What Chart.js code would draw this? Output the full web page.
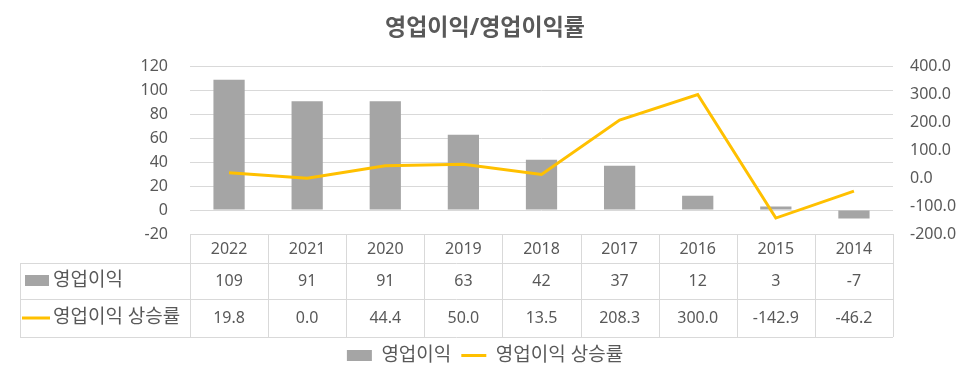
<!DOCTYPE html>
<html>
<head>
<meta charset="utf-8">
<script src="https://cdn.jsdelivr.net/npm/chart.js@4"></script>
<style>
  html, body { margin: 0; padding: 0; background: #fff; }
  #wrap { width: 970px; height: 380px; }
</style>
</head>
<body>
<div id="wrap"><canvas id="profitChart"></canvas></div>
<script>
// données
const years = ['2022', '2021', '2020', '2019', '2018', '2017', '2016', '2015', '2014'];
const profit = [109, 91, 91, 63, 42, 37, 12, 3, -7];
const growth = [19.8, 0.0, 44.4, 50.0, 13.5, 208.3, 300.0, -142.9, -46.2];

const TXT = '#595959';
const GRID = '#D9D9D9';
const FONT = "'Noto Sans', 'Noto Sans CJK KR', sans-serif";

// tableau de données sous le graphique
const dataTable = {
  id: 'dataTable',
  afterDraw(chart) {
    const { ctx, chartArea, scales } = chart;
    const x = scales.x;
    const top = chartArea.bottom;
    const rows = [top, top + 29, top + 65, top + 103];
    const step = x.getPixelForValue(1) - x.getPixelForValue(0);
    const left = chartArea.left;
    const right = chartArea.right;
    const labelLeft = 20;

    ctx.save();
    ctx.strokeStyle = GRID;
    ctx.lineWidth = 1;
    ctx.beginPath();
    // lignes horizontales
    ctx.moveTo(left, rows[0] + 0.5); ctx.lineTo(right, rows[0] + 0.5);
    for (let r = 1; r < rows.length; r++) {
      ctx.moveTo(labelLeft, rows[r] + 0.5); ctx.lineTo(right, rows[r] + 0.5);
    }
    // lignes verticales
    ctx.moveTo(labelLeft + 0.5, rows[1]); ctx.lineTo(labelLeft + 0.5, rows[3]);
    for (let i = 0; i <= years.length; i++) {
      const px = Math.round(x.getPixelForValue(i) - step / 2) + 0.5;
      ctx.moveTo(px, rows[0]); ctx.lineTo(px, rows[3]);
    }
    ctx.stroke();

    ctx.fillStyle = TXT;
    ctx.font = '16px ' + FONT;
    ctx.textAlign = 'center';
    ctx.textBaseline = 'middle';
    years.forEach((_, i) => {
      const cx = x.getPixelForValue(i);
      ctx.fillText(String(profit[i]), cx, (rows[1] + rows[2]) / 2);
      ctx.fillText(growth[i].toFixed(1), cx, (rows[2] + rows[3]) / 2);
    });

    // légendes dans la première colonne
    const ds = chart.data.datasets;
    const y1 = (rows[1] + rows[2]) / 2;
    const y2 = (rows[2] + rows[3]) / 2;
    ctx.fillStyle = ds[1].backgroundColor;
    ctx.fillRect(25, y1 - 6, 24, 11);
    ctx.strokeStyle = ds[0].borderColor;
    ctx.lineWidth = 3;
    ctx.beginPath();
    ctx.moveTo(22, y2); ctx.lineTo(50, y2);
    ctx.stroke();

    ctx.fillStyle = TXT;
    ctx.font = '19px ' + FONT;
    ctx.textAlign = 'left';
    ctx.fillText(ds[1].label, 53, y1);
    ctx.fillText(ds[0].label, 53, y2);
    ctx.restore();
  }
};

const ctx = document.getElementById('profitChart').getContext('2d');
window.profitChart = new Chart(ctx, {
  data: {
    labels: years,
    datasets: [
      {
        type: 'line',
        label: '영업이익 상승률',
        data: growth,
        borderColor: '#FFC000',
        backgroundColor: '#FFC000',
        borderWidth: 3,
        pointRadius: 0,
        tension: 0,
        yAxisID: 'y2',
        order: 0
      },
      {
        type: 'bar',
        label: '영업이익',
        data: profit,
        backgroundColor: '#A5A5A5',
        borderWidth: 0,
        categoryPercentage: 1,
        barPercentage: 0.4,
        yAxisID: 'y',
        order: 1
      }
    ]
  },
  options: {
    responsive: true,
    maintainAspectRatio: false,
    animation: false,
    layout: { padding: { bottom: 5 } },
    plugins: {
      title: {
        display: true,
        text: '영업이익/영업이익률',
        color: TXT,
        font: { family: FONT, size: 23, weight: 'bold' },
        padding: { top: 15, bottom: 24 }
      },
      legend: {
        position: 'bottom',
        reverse: true,
        labels: {
          color: TXT,
          font: { family: FONT, size: 19 },
          usePointStyle: true,
          pointStyleWidth: 25,
          boxHeight: 11,
          padding: 10,
          generateLabels(chart) {
            return chart.data.datasets.map((d, i) => ({
              text: d.label,
              datasetIndex: i,
              fillStyle: d.backgroundColor,
              strokeStyle: d.type === 'line' ? d.borderColor : d.backgroundColor,
              lineWidth: d.type === 'line' ? 3 : 0,
              pointStyle: d.type === 'line' ? 'line' : 'rect',
              fontColor: TXT,
              hidden: false
            }));
          }
        }
      },
      tooltip: { enabled: false }
    },
    scales: {
      x: {
        grid: { display: false, drawTicks: false },
        border: { display: false },
        ticks: {
          color: TXT,
          font: { family: FONT, size: 16 },
          padding: 6,
          autoSkip: false,
          maxRotation: 0
        },
        afterFit(scale) { scale.height = 102; }
      },
      y: {
        position: 'left',
        min: -20,
        max: 120,
        grid: { color: GRID, drawTicks: false },
        border: { display: false },
        ticks: {
          stepSize: 20,
          color: TXT,
          font: { family: FONT, size: 16 },
          padding: 22
        },
        afterFit(scale) { scale.width = 190; }
      },
      y2: {
        position: 'right',
        min: -200,
        max: 400,
        grid: { display: false, drawTicks: false },
        border: { display: false },
        ticks: {
          stepSize: 100,
          color: TXT,
          font: { family: FONT, size: 16 },
          padding: 17,
          callback: v => Number(v).toFixed(1)
        },
        afterFit(scale) { scale.width = 77; }
      }
    }
  },
  plugins: [dataTable]
});
</script>
</body>
</html>
